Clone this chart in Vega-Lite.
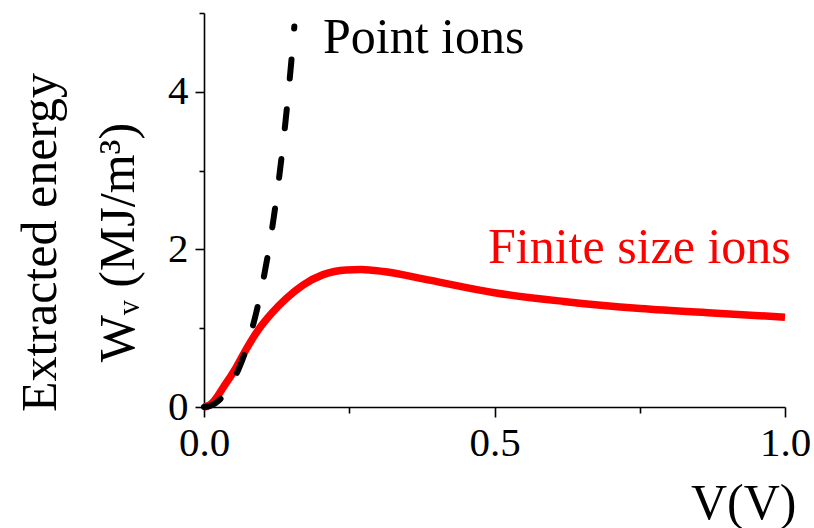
{
  "$schema": "https://vega.github.io/schema/vega-lite/v6.json",
  "width": 581,
  "height": 394,
  "autosize": {"type": "none"},
  "padding": {"left": 204, "top": 13, "right": 29, "bottom": 121},
  "background": "white",
  "config": {
    "view": {"stroke": null},
    "font": "Liberation Serif",
    "axis": {
      "grid": false,
      "domainColor": "black",
      "domainWidth": 1.6,
      "tickColor": "black",
      "tickWidth": 1.6,
      "labelColor": "black",
      "labelFont": "Liberation Serif",
      "labelFontSize": 41,
      "titleFont": "Liberation Serif",
      "titleFontSize": 50,
      "titleFontWeight": "normal",
      "titleColor": "black"
    }
  },
  "datasets": {
    "finite": [
      {"V": 0.0, "W": 0.0},
      {"V": 0.01, "W": 0.025},
      {"V": 0.036, "W": 0.28},
      {"V": 0.056, "W": 0.51},
      {"V": 0.0735, "W": 0.745},
      {"V": 0.0935, "W": 0.98},
      {"V": 0.1165, "W": 1.19},
      {"V": 0.142, "W": 1.38},
      {"V": 0.171, "W": 1.55},
      {"V": 0.205, "W": 1.68},
      {"V": 0.245, "W": 1.74},
      {"V": 0.27, "W": 1.745},
      {"V": 0.309, "W": 1.72},
      {"V": 0.388, "W": 1.61},
      {"V": 0.5, "W": 1.45},
      {"V": 0.619, "W": 1.34},
      {"V": 0.751, "W": 1.25},
      {"V": 0.882, "W": 1.19},
      {"V": 1.0, "W": 1.14}
    ],
    "point": [
      {"V": 0.0, "W": 0.0},
      {"V": 0.01, "W": 0.013},
      {"V": 0.02, "W": 0.051},
      {"V": 0.03, "W": 0.116},
      {"V": 0.04, "W": 0.209},
      {"V": 0.05, "W": 0.333},
      {"V": 0.06, "W": 0.488},
      {"V": 0.07, "W": 0.677},
      {"V": 0.08, "W": 0.919},
      {"V": 0.09, "W": 1.201},
      {"V": 0.1, "W": 1.537},
      {"V": 0.11, "W": 1.935},
      {"V": 0.12, "W": 2.404},
      {"V": 0.13, "W": 2.955},
      {"V": 0.14, "W": 3.603},
      {"V": 0.15, "W": 4.361},
      {"V": 0.1555, "W": 4.83}
    ],
    "labels": [
      {"V": 0.2048, "W": 4.49, "text": "Point ions", "c": "black"},
      {"V": 0.4888, "W": 1.824, "text": "Finite size ions", "c": "red"}
    ]
  },
  "encoding": {
    "x": {
      "field": "V",
      "type": "quantitative",
      "scale": {"domain": [0, 1], "nice": false, "zero": false},
      "axis": {
        "values": [0, 0.25, 0.5, 0.75, 1.0],
        "labelExpr": "datum.value % 0.5 === 0 ? format(datum.value, '.1f') : ''",
        "tickSize": {"condition": {"test": "datum.value % 0.5 === 0", "value": 10}, "value": 6},
        "labelPadding": 6,
        "labelFlush": false,
        "labelOverlap": false,
        "title": "V(V)",
        "titleX": 592,
        "titleY": 111,
        "titleAlign": "right",
        "titleBaseline": "alphabetic",
        "titleAnchor": "end"
      }
    },
    "y": {
      "field": "W",
      "type": "quantitative",
      "scale": {"domain": [0, 5], "nice": false},
      "axis": {
        "values": [0, 1, 2, 3, 4, 5],
        "labelExpr": "datum.value % 2 === 0 ? datum.label : ''",
        "tickSize": {"condition": {"test": "datum.value % 2 === 0", "value": 9}, "value": 5},
        "labelPadding": 7,
        "labelFlush": false,
        "labelOverlap": false,
        "title": ["Extracted energy", "Wᵥ (MJ/m³)"],
        "titleX": -149,
        "titleY": 229,
        "titleAngle": 270,
        "titleAlign": "center",
        "titleBaseline": "alphabetic",
        "titleLineHeight": 78
      }
    }
  },
  "layer": [
    {
      "data": {"name": "finite"},
      "mark": {"type": "line", "color": "#ff0000", "strokeWidth": 7.5, "interpolate": "monotone"}
    },
    {
      "data": {"name": "point"},
      "mark": {"type": "line", "color": "black", "strokeWidth": 6, "strokeDash": [19, 31], "strokeCap": "round", "interpolate": "monotone"}
    },
    {
      "data": {"name": "labels"},
      "mark": {"type": "text", "align": "left", "baseline": "alphabetic", "fontSize": 50, "font": "Liberation Serif"},
      "encoding": {
        "text": {"field": "text"},
        "color": {"field": "c", "type": "nominal", "scale": null}
      }
    }
  ]
}
